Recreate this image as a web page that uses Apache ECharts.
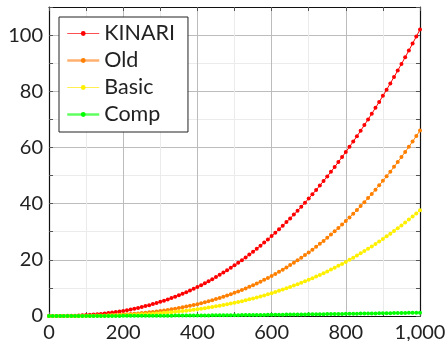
<!DOCTYPE html>
<html><head><meta charset="utf-8">
<script src="https://cdn.jsdelivr.net/npm/echarts@6/dist/echarts.min.js"></script>
<style>html,body{margin:0;padding:0;background:#fff}#c{width:446px;height:341px}</style>
</head><body><div id="c"></div>
<script>
// x positions 0..1000 step 10
const xs = [0,10,20,30,40,50,60,70,80,90,100,110,120,130,140,150,160,170,180,190,200,210,220,230,240,250,260,270,280,290,300,310,320,330,340,350,360,370,380,390,400,410,420,430,440,450,460,470,480,490,500,510,520,530,540,550,560,570,580,590,600,610,620,630,640,650,660,670,680,690,700,710,720,730,740,750,760,770,780,790,800,810,820,830,840,850,860,870,880,890,900,910,920,930,940,950,960,970,980,990,1000];
const seriesNames = ["KINARI","Old","Basic","Comp"];
const kinari = [0,0.00,0.01,0.02,0.03,0.06,0.09,0.13,0.18,0.25,0.32,0.41,0.51,0.62,0.75,0.89,1.04,1.22,1.40,1.61,1.82,2.06,2.32,2.59,2.88,3.19,3.52,3.86,4.23,4.62,5.03,5.46,5.91,6.38,6.88,7.39,7.93,8.49,9.08,9.69,10.32,10.98,11.66,12.37,13.10,13.86,14.64,15.45,16.28,17.14,18.03,18.95,19.89,20.86,21.86,22.88,23.94,25.02,26.13,27.27,28.44,29.64,30.87,32.13,33.42,34.74,36.10,37.48,38.89,40.34,41.82,43.33,44.87,46.44,48.05,49.69,51.36,53.07,54.81,56.58,58.39,60.23,62.10,64.01,65.96,67.95,69.96,72.01,74.10,76.22,78.38,80.57,82.81,85.08,87.38,89.73,92.10,94.52,96.97,99.47,102.00];
const old = [0,0.00,0.00,0.00,0.00,0.01,0.01,0.02,0.03,0.05,0.07,0.09,0.11,0.15,0.18,0.22,0.27,0.32,0.38,0.45,0.53,0.61,0.70,0.80,0.91,1.03,1.16,1.30,1.45,1.61,1.78,1.97,2.16,2.37,2.59,2.83,3.08,3.34,3.62,3.92,4.22,4.55,4.89,5.25,5.62,6.01,6.42,6.85,7.30,7.76,8.25,8.75,9.28,9.83,10.39,10.98,11.59,12.22,12.88,13.56,14.26,14.98,15.73,16.50,17.30,18.13,18.97,19.85,20.75,21.68,22.64,23.62,24.63,25.68,26.74,27.84,28.97,30.13,31.32,32.54,33.79,35.08,36.39,37.74,39.12,40.53,41.98,43.46,44.98,46.53,48.11,49.74,51.39,53.09,54.82,56.59,58.39,60.24,62.12,64.04,66.00];
const basic = [0,0.00,0.00,0.00,0.00,0.00,0.01,0.01,0.02,0.03,0.04,0.05,0.06,0.08,0.10,0.13,0.15,0.18,0.22,0.26,0.30,0.35,0.40,0.46,0.52,0.59,0.66,0.74,0.83,0.92,1.02,1.12,1.23,1.35,1.48,1.61,1.76,1.91,2.06,2.23,2.41,2.59,2.79,2.99,3.20,3.43,3.66,3.91,4.16,4.43,4.70,4.99,5.29,5.60,5.92,6.26,6.61,6.97,7.34,7.73,8.13,8.54,8.97,9.41,9.86,10.33,10.82,11.31,11.83,12.36,12.90,13.46,14.04,14.63,15.24,15.87,16.51,17.17,17.85,18.55,19.26,19.99,20.74,21.51,22.30,23.10,23.93,24.77,25.64,26.52,27.42,28.35,29.29,30.26,31.25,32.25,33.28,34.34,35.41,36.50,37.62];
const comp = [0,0,0,0,0,0,0,0.01,0.01,0.01,0.01,0.01,0.02,0.02,0.02,0.03,0.03,0.03,0.04,0.04,0.05,0.05,0.06,0.06,0.07,0.08,0.08,0.09,0.09,0.10,0.11,0.12,0.12,0.13,0.14,0.15,0.16,0.16,0.17,0.18,0.19,0.20,0.21,0.22,0.23,0.24,0.25,0.27,0.28,0.29,0.30,0.31,0.32,0.34,0.35,0.36,0.38,0.39,0.40,0.42,0.43,0.45,0.46,0.48,0.49,0.51,0.52,0.54,0.55,0.57,0.59,0.60,0.62,0.64,0.66,0.68,0.69,0.71,0.73,0.75,0.77,0.79,0.81,0.83,0.85,0.87,0.89,0.91,0.93,0.95,0.97,0.99,1.02,1.04,1.06,1.08,1.11,1.13,1.15,1.18,1.20];
const colors = ["#ff0000","#ff8000","#fff000","#00ff00"];
const legendLineColors = ["#ff5050","#ffb070","#fff050","#60ff60"];
const legendLineWidths = [1.2,2.5,1.2,2.5];

const FONT = "Lato";
const chart = echarts.init(document.getElementById('c'), null, {renderer:'canvas'});
const allSeries = [kinari, old, basic, comp];
const option = {
  animation:false,
  grid:{left:49,right:26,top:7,bottom:25,containLabel:false,outerBoundsMode:'none'},
  legend:{
    orient:'vertical', left:59, top:17,
    backgroundColor:'#fff', borderColor:'#222', borderWidth:1, borderRadius:0,
    padding:[5,13,6,7], itemGap:4, itemWidth:32, itemHeight:6,
    textStyle:{fontFamily:FONT,fontSize:21.5,color:'#222',lineHeight:23,padding:[0,0,0,0]},
    data: seriesNames.map((n,i)=>({name:n,
      itemStyle:{color:colors[i]}, lineStyle:{color:legendLineColors[i],width:legendLineWidths[i]}}))
  },
  xAxis:[{
    type:'value', min:0, max:1000, interval:200, position:'bottom',
    axisLine:{show:true,onZero:false,lineStyle:{color:'#111',width:1.2}},
    axisTick:{show:true,inside:true,length:4,lineStyle:{color:'#555'}},
    minorTick:{show:true,splitNumber:2,length:4,lineStyle:{color:'#555'}},
    splitLine:{show:true,lineStyle:{color:'#bcbcbc',width:1}},
    minorSplitLine:{show:true,lineStyle:{color:'#ebebeb',width:1}},
    axisLabel:{fontFamily:FONT,fontSize:20,color:'#222',margin:7,hideOverlap:false,
      formatter:v=>v.toLocaleString('en-US')}
  },{
    type:'value', min:0, max:1000, interval:200, position:'top',
    axisLine:{show:true,onZero:false,lineStyle:{color:'#111',width:1.2}},
    axisTick:{show:true,inside:true,length:4,lineStyle:{color:'#555'}},
    minorTick:{show:true,splitNumber:2,length:4,lineStyle:{color:'#555'}},
    axisLabel:{show:false}, splitLine:{show:false}
  }],
  yAxis:[{
    type:'value', min:0, max:110, interval:10, position:'left',
    axisLine:{show:true,onZero:false,lineStyle:{color:'#111',width:1.2}},
    axisTick:{show:true,inside:true,length:4,lineStyle:{color:'#555'}},
    splitLine:{show:true,lineStyle:{color:['#bcbcbc','#ebebeb'],width:1}},
    axisLabel:{fontFamily:FONT,fontSize:20,color:'#222',margin:6,
      formatter:v=>(v%20===0 && v<=100)?String(v):''}
  },{
    type:'value', min:0, max:110, interval:10, position:'right',
    axisLine:{show:true,onZero:false,lineStyle:{color:'#111',width:1.2}},
    axisTick:{show:true,inside:true,length:4,lineStyle:{color:'#555'}},
    axisLabel:{show:false}, splitLine:{show:false}
  }],
  series: allSeries.map((arr,i)=>({
    name:seriesNames[i], type:'line', xAxisIndex:0, yAxisIndex:0,
    data: xs.map((x,k)=>[x,arr[k]]),
    symbol:'circle', symbolSize:4, showAllSymbol:true,
    itemStyle:{color:colors[i]},
    lineStyle:{color:colors[i],width:1},
    clip:true
  }))
};
chart.setOption(option);
</script></body></html>
